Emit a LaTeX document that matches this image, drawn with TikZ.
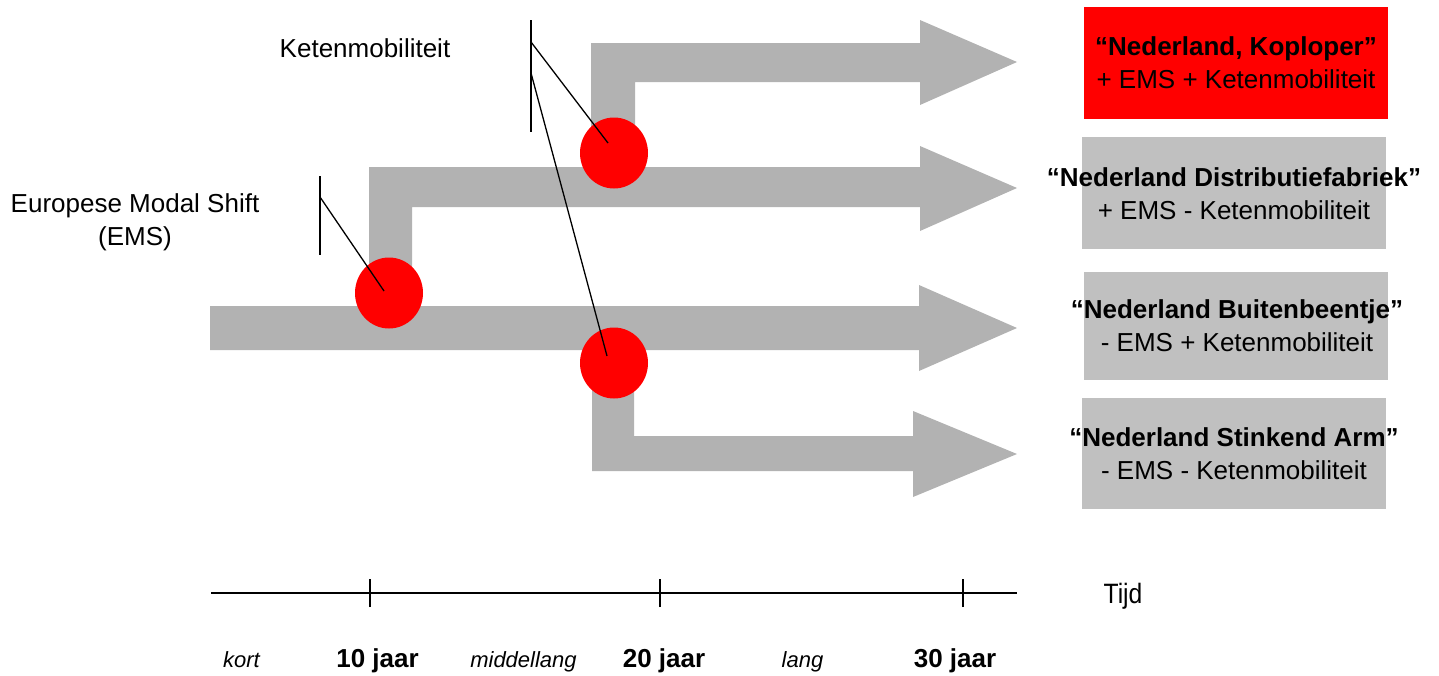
\documentclass[tikz,border=0pt]{standalone}
\usepackage{fontspec}
\setmainfont{Liberation Sans}
\usetikzlibrary{shapes.geometric}
\definecolor{flowgray}{HTML}{B2B2B2}
\definecolor{boxgray}{HTML}{C0C0C0}
\definecolor{hotred}{HTML}{FF0000}

\begin{document}
\begin{tikzpicture}[x=1pt,y=-1pt,
  flow/.style={fill=flowgray},
  junction/.style={ellipse, fill=hotred, inner sep=0pt,
                   minimum width=68pt, minimum height=71pt},
  scenbox/.style={rectangle, inner sep=0pt, minimum width=304pt},
  scentext/.style={align=center, inner sep=0pt, font=\fontsize{26}{33}\selectfont},
  lbl/.style={inner sep=0pt, font=\fontsize{26}{33}\selectfont},
  smalllbl/.style={inner sep=0pt, font=\fontsize{22}{26}\selectfont},
  leader/.style={line width=1.3pt},
  axis/.style={line width=1.8pt},
  tick/.style={line width=1.3pt}]

\useasboundingbox (0,0) rectangle (1439,675);

% flow arrows: trunk and its three branches
\fill[flow] (210,306) -- (919,306) -- (919,285) -- (1017,328)
            -- (919,371) -- (919,350) -- (210,350) -- cycle;
\fill[flow] (369,306) -- (369,167) -- (920,167) -- (920,146) -- (1017,188)
            -- (920,231) -- (920,207) -- (412,207) -- (412,306) -- cycle;
\fill[flow] (591,168) -- (591,43) -- (920,43) -- (920,20) -- (1017,62)
            -- (920,105) -- (920,82) -- (635,82) -- (635,168) -- cycle;
\fill[flow] (592,350) -- (592,471) -- (913,471) -- (913,497) -- (1017,454)
            -- (913,411) -- (913,436) -- (634,436) -- (634,350) -- cycle;

% decision points
\node[junction] (ems)  at (389,293) {};
\node[junction] (ketA) at (614,153) {};
\node[junction] (ketB) at (614,363) {};

% scenario boxes
\node[scenbox, fill=hotred,  minimum height=112pt] (s1) at (1236,63) {};
\node[scenbox, fill=boxgray, minimum height=112pt] (s2) at (1234,193) {};
\node[scenbox, fill=boxgray, minimum height=108pt] (s3) at (1236,326) {};
\node[scenbox, fill=boxgray, minimum height=111pt] (s4) at (1234,453.5) {};

\node[scentext] (t1) at (s1.center) {{\bfseries “Nederland, Koploper”}\\+ EMS + Ketenmobiliteit};
\node[scentext] (t2) at ([yshift=-1pt]s2.center) {{\bfseries “Nederland Distributiefabriek”}\\+ EMS - Ketenmobiliteit};
\node[scentext] (t3) at ([xshift=1pt]s3.center) {{\bfseries “Nederland Buitenbeentje”}\\- EMS + Ketenmobiliteit};
\node[scentext] (t4) at (s4.center) {{\bfseries “Nederland Stinkend Arm”}\\- EMS - Ketenmobiliteit};

% driver labels with their leader lines
\node[scentext] (emslbl) at (135,222) {Europese Modal Shift\\(EMS)};
\node[lbl, anchor=base] (ketlbl) at (365,57) {Ketenmobiliteit};

\coordinate (emsTop) at (320,176);
\coordinate (emsBot) at (320,255);
\coordinate (emsJoin) at (320,197);
\coordinate (emsEnd) at (384,291);
\draw[leader] (emsTop) -- (emsBot);
\draw[leader] (emsJoin) -- (emsEnd);

\coordinate (ketTop) at (531,20);
\coordinate (ketBot) at (531,132);
\coordinate (ketJoinA) at (531,42);
\coordinate (ketJoinB) at (531,73);
\coordinate (ketEndA) at (608,143);
\coordinate (ketEndB) at (607,356);
\draw[leader] (ketTop) -- (ketBot);
\draw[leader] (ketJoinA) -- (ketEndA);
\draw[leader] (ketJoinB) -- (ketEndB);

% time axis
\coordinate (ax0) at (211,593);
\coordinate (ax1) at (1017,593);
\draw[axis] (ax0) -- (ax1);
\foreach \x/\n in {370/a, 660/b, 963/c} {
  \coordinate (tk\n) at (\x,593);
  \draw[tick] ([yshift=-14pt]tk\n) -- ([yshift=14pt]tk\n);
}
\node[inner sep=0pt, anchor=base, font=\fontsize{28}{32}\selectfont] (tijd) at (1123,603)
  {\scalebox{0.88}[1]{Tijd}};

\node[smalllbl, anchor=base] (kort) at (241.5,667) {\itshape kort};
\node[lbl, anchor=base] (j10) at (377.5,667) {\bfseries 10 jaar};
\node[smalllbl, anchor=base] (mid) at (523.5,667) {\itshape middellang};
\node[lbl, anchor=base] (j20) at (664,667) {\bfseries 20 jaar};
\node[smalllbl, anchor=base] (lang) at (802.5,667) {\itshape lang};
\node[lbl, anchor=base] (j30) at (955,667) {\bfseries 30 jaar};
\end{tikzpicture}
\end{document}
